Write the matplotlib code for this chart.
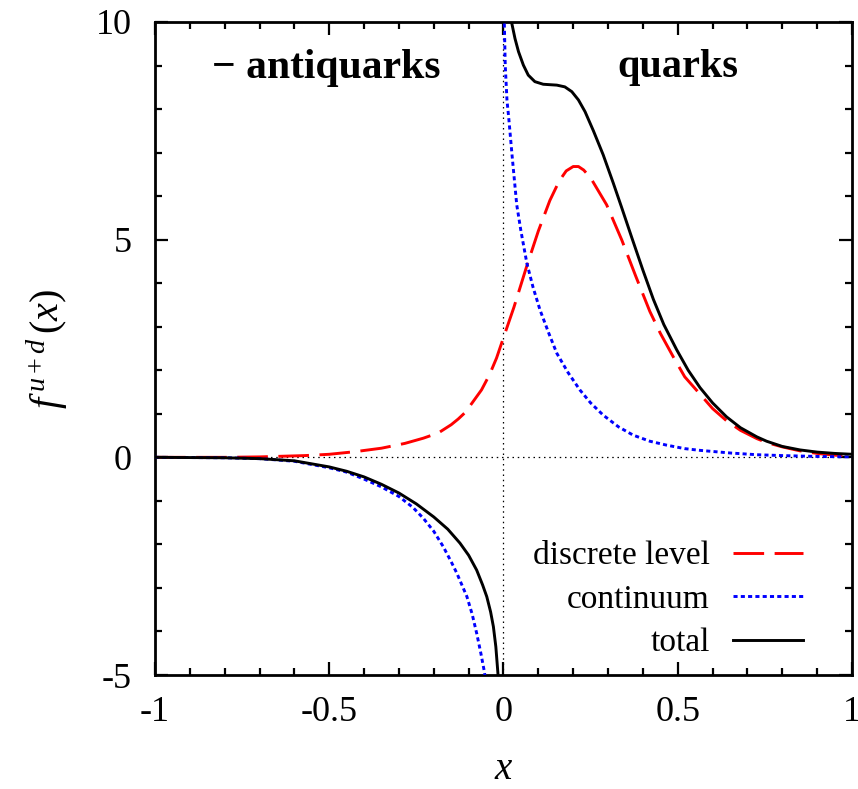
import matplotlib
matplotlib.use("Agg")
import matplotlib.pyplot as plt
from matplotlib.ticker import MultipleLocator, FormatStrFormatter

# discrete level (red, long dashes)
x_disc = [-1.0, -0.8, -0.7, -0.57, -0.5, -0.426, -0.35, -0.283, -0.23, -0.187,
          -0.15, -0.13, -0.11, -0.09, -0.063, -0.04, -0.02, 0.0, 0.03, 0.067,
          0.1, 0.133, 0.16, 0.18, 0.2, 0.215, 0.23, 0.25, 0.27, 0.296,
          0.339, 0.38, 0.42, 0.45, 0.487, 0.52, 0.564, 0.6, 0.64, 0.68,
          0.727, 0.755, 0.8, 0.85, 0.9, 0.95, 1.0]
y_disc = [0.0, 0.0, 0.01, 0.04, 0.07, 0.13, 0.21, 0.32, 0.44, 0.56,
          0.75, 0.88, 1.03, 1.25, 1.55, 1.9, 2.28, 2.75, 3.45, 4.4,
          5.2, 5.9, 6.35, 6.58, 6.68, 6.68, 6.6, 6.42, 6.15, 5.8,
          5.0, 4.15, 3.35, 2.85, 2.31, 1.85, 1.45, 1.12, 0.84, 0.62,
          0.43, 0.34, 0.24, 0.15, 0.09, 0.05, 0.03]

# continuum (blue, dotted), antiquark branch and quark branch
x_cont_neg = [-1.0, -0.9, -0.8, -0.7, -0.6, -0.5, -0.45, -0.4, -0.35, -0.3,
              -0.26, -0.23, -0.2, -0.173, -0.15, -0.134, -0.12, -0.105, -0.09, -0.077,
              -0.065, -0.055, -0.05]
y_cont_neg = [0.0, -0.005, -0.01, -0.03, -0.09, -0.24, -0.34, -0.5, -0.68, -0.9,
              -1.15, -1.4, -1.7, -2.05, -2.4, -2.66, -2.92, -3.2, -3.6, -4.04,
              -4.5, -4.92, -5.2]
x_cont_pos = [0.0015, 0.005, 0.01, 0.015, 0.025, 0.038, 0.05, 0.067, 0.085, 0.105,
              0.13, 0.153, 0.185, 0.219, 0.25, 0.286, 0.33, 0.372, 0.42, 0.468,
              0.52, 0.564, 0.65, 0.727, 0.8, 0.9, 1.0]
y_cont_pos = [10.3, 9.0, 8.2, 7.8, 6.9, 5.8, 5.2, 4.46, 3.9, 3.38,
              2.85, 2.39, 1.95, 1.55, 1.25, 0.97, 0.7, 0.51, 0.37, 0.28,
              0.2, 0.16, 0.1, 0.06, 0.04, 0.02, 0.01]

# total (black, solid)
x_tot_neg = [-1.0, -0.9, -0.8, -0.7, -0.6, -0.5, -0.45, -0.4, -0.35, -0.3,
             -0.25, -0.2, -0.16, -0.125, -0.1, -0.077, -0.06, -0.048, -0.037, -0.029,
             -0.022, -0.016, -0.014]
y_tot_neg = [0.0, -0.005, -0.01, -0.03, -0.08, -0.22, -0.32, -0.45, -0.62, -0.82,
             -1.07, -1.37, -1.65, -1.97, -2.25, -2.59, -2.93, -3.2, -3.55, -3.89,
             -4.35, -4.96, -5.3]
x_tot_pos = [0.02, 0.023, 0.033, 0.043, 0.057, 0.071, 0.09, 0.114, 0.133, 0.153,
             0.176, 0.196, 0.215, 0.234, 0.258, 0.286, 0.315, 0.339, 0.368, 0.4,
             0.43, 0.46, 0.497, 0.53, 0.564, 0.6, 0.64, 0.68, 0.727, 0.755,
             0.8, 0.851, 0.9, 0.95, 1.0]
y_tot_pos = [10.3, 10.0, 9.62, 9.32, 9.01, 8.78, 8.63, 8.57, 8.56, 8.55,
             8.51, 8.4, 8.21, 7.94, 7.5, 6.95, 6.3, 5.74, 5.05, 4.3,
             3.63, 3.05, 2.47, 2.0, 1.6, 1.25, 0.93, 0.68, 0.47, 0.37,
             0.25, 0.17, 0.12, 0.09, 0.07]

labels = ["discrete level", "continuum", "total"]

plt.rcParams["font.family"] = ["Liberation Serif", "DejaVu Serif"]
plt.rcParams["mathtext.fontset"] = "custom"
plt.rcParams["mathtext.rm"] = "Liberation Serif"
plt.rcParams["mathtext.it"] = "Liberation Serif:italic"
plt.rcParams["axes.unicode_minus"] = False

fig = plt.figure(figsize=(8.58, 7.89), dpi=100)
ax = fig.add_axes([155 / 858, 1 - 675 / 789, 697 / 858, 653 / 789])

# zero lines
ax.axhline(0, color="black", lw=0.9, dashes=(1.2, 3.0), zorder=1)
ax.axvline(0, color="black", lw=0.9, dashes=(1.2, 3.0), zorder=1)

red, = ax.plot(x_disc, y_disc, color="#ff0000", lw=2.1, dashes=(10.5, 3.6), zorder=2)
blue, = ax.plot(x_cont_pos, y_cont_pos, color="#0000ff", lw=2.1, dashes=(1.4, 1.1), zorder=3)
ax.plot(x_cont_neg, y_cont_neg, color="#0000ff", lw=2.1, dashes=(1.4, 1.1), zorder=3)
black, = ax.plot(x_tot_pos, y_tot_pos, color="black", lw=2.1, zorder=4)
ax.plot(x_tot_neg, y_tot_neg, color="black", lw=2.1, zorder=4)

ax.set_xlim(-1, 1)
ax.set_ylim(-5, 10)
ax.xaxis.set_major_locator(MultipleLocator(0.5))
ax.xaxis.set_minor_locator(MultipleLocator(0.1))
ax.yaxis.set_major_locator(MultipleLocator(5))
ax.yaxis.set_minor_locator(MultipleLocator(1))
ax.xaxis.set_major_formatter(FormatStrFormatter("%g"))
ax.yaxis.set_major_formatter(FormatStrFormatter("%g"))

for s in ax.spines.values():
    s.set_linewidth(2.0)
ax.tick_params(which="both", direction="in", top=True, right=True, width=1.6,
               labelsize=26)
ax.tick_params(which="major", length=9.5)
ax.tick_params(which="minor", length=5)
ax.tick_params(axis="x", which="major", pad=15)
ax.tick_params(axis="y", which="major", pad=17)

ax.set_xlabel(r"$x$", fontsize=28, labelpad=16)
ax.set_ylabel(r"$f^{\,u+d}\,(x)$", fontsize=29, labelpad=18)

ax.text(-0.51, 8.95, "\u2212 antiquarks", fontsize=30, fontweight="bold",
        ha="center", va="center")
ax.text(0.5, 8.95, "quarks", fontsize=29, fontweight="bold",
        ha="center", va="center")

ax.legend([red, blue, black], labels, loc="lower right", markerfirst=False,
          frameon=False, fontsize=24, handlelength=2.1, handletextpad=0.7,
          labelspacing=0.39, borderpad=0, bbox_to_anchor=(0.954, 0.0))

fig.savefig("out.png", dpi=100)
